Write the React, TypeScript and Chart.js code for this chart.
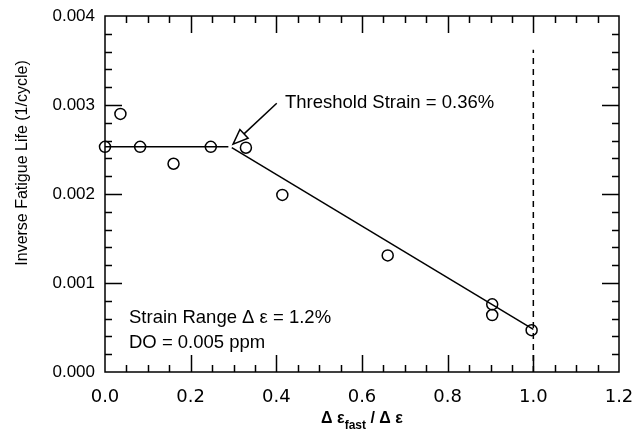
import React, { useEffect, useRef } from "react";
import { Chart, registerables } from "chart.js";

Chart.register(...registerables);

// Measured points
const pointsX = [0, 0.036, 0.082, 0.16, 0.247, 0.329, 0.414, 0.66, 0.904, 0.904, 0.996];
const pointsY = [0.00253, 0.0029, 0.00253, 0.00234, 0.00253, 0.00252, 0.00199, 0.00131, 0.00076, 0.00064, 0.00047];

// Fitted lines
const plateauX = [0, 0.288];
const plateauY = [0.00253, 0.00253];
const slopeX = [0.296, 1.0];
const slopeY = [0.00252, 0.00048];

// Vertical dashed limit line
const limitX = [1.0, 1.0];
const limitY = [0, 0.00362];

// Axes
const xMin = 0, xMax = 1.2, xStep = 0.2, xMinorStep = 0.05;
const yMin = 0, yMax = 0.004, yStep = 0.001, yMinorStep = 0.0002;

// Annotations (data coords)
const arrowTail = [0.401, 0.00302];
const arrowTip = [0.299, 0.00256];
const thresholdLabel = "Threshold Strain = 0.36%";
const thresholdPos = [0.42, 0.00302];
const noteLines = ["Strain Range \u0394 \u03b5 = 1.2%", "DO = 0.005 ppm"];
const notePos = [0.056, 0.000607];
const yTitle = "Inverse Fatigue Life (1/cycle)";

const FONT = '"Liberation Sans", Arial, Helvetica, sans-serif';
const WIDE = '"DejaVu Sans", sans-serif';

const toXY = (xs: number[], ys: number[]) => xs.map((x, i) => ({ x, y: ys[i] }));

const decorPlugin = {
  id: "decor",
  afterDraw(chart: any) {
    const { ctx, chartArea: a, scales } = chart;
    const xs = scales.x, ys = scales.y;
    ctx.save();
    ctx.strokeStyle = "#000";
    ctx.fillStyle = "#000";
    ctx.lineWidth = 1.5;
    ctx.strokeRect(a.left, a.top, a.right - a.left, a.bottom - a.top);

    // ticks
    const nx = Math.round((xMax - xMin) / xMinorStep);
    const perX = Math.round(xStep / xMinorStep);
    ctx.beginPath();
    for (let i = 1; i < nx; i++) {
      const v = xMin + i * xMinorStep;
      const px = Math.round(xs.getPixelForValue(v)) + 0.5;
      const len = i % perX === 0 ? 17 : 7;
      ctx.moveTo(px, a.bottom);
      ctx.lineTo(px, a.bottom - len);
      ctx.moveTo(px, a.top);
      ctx.lineTo(px, a.top + len);
    }
    const ny = Math.round((yMax - yMin) / yMinorStep);
    const perY = Math.round(yStep / yMinorStep);
    for (let i = 1; i < ny; i++) {
      const v = yMin + i * yMinorStep;
      const py = Math.round(ys.getPixelForValue(v)) + 0.5;
      const len = i % perY === 0 ? 17 : 7;
      ctx.moveTo(a.left, py);
      ctx.lineTo(a.left + len, py);
      ctx.moveTo(a.right, py);
      ctx.lineTo(a.right - len, py);
    }
    ctx.stroke();

    // arrow
    const tx = xs.getPixelForValue(arrowTail[0]), ty = ys.getPixelForValue(arrowTail[1]);
    const hx = xs.getPixelForValue(arrowTip[0]), hy = ys.getPixelForValue(arrowTip[1]);
    const dx = hx - tx, dy = hy - ty;
    const L = Math.hypot(dx, dy);
    const ux = dx / L, uy = dy / L;
    const nxv = -uy, nyv = ux;
    const hl = 15, hw = 6;
    const bx = hx - ux * hl, by = hy - uy * hl;
    ctx.lineWidth = 1.5;
    ctx.beginPath();
    ctx.moveTo(tx, ty);
    ctx.lineTo(bx, by);
    ctx.stroke();
    ctx.beginPath();
    ctx.moveTo(hx, hy);
    ctx.lineTo(bx + nxv * hw, by + nyv * hw);
    ctx.lineTo(bx - nxv * hw, by - nyv * hw);
    ctx.closePath();
    ctx.stroke();

    // texts
    ctx.font = `18.5px ${FONT}`;
    ctx.textBaseline = "middle";
    ctx.textAlign = "left";
    ctx.fillText(thresholdLabel, xs.getPixelForValue(thresholdPos[0]), ys.getPixelForValue(thresholdPos[1]));
    const nx0 = xs.getPixelForValue(notePos[0]);
    const ny0 = ys.getPixelForValue(notePos[1]);
    noteLines.forEach((t, i) => ctx.fillText(t, nx0, ny0 + i * 25));

    // y title
    ctx.save();
    ctx.translate(23, 163);
    ctx.rotate(-Math.PI / 2);
    ctx.textAlign = "center";
    ctx.font = `16px ${FONT}`;
    ctx.fillText(yTitle, 0, 0);
    ctx.restore();

    // x title with subscript
    const cx = (a.left + a.right) / 2;
    const base = 423;
    const mainFont = `bold 16px ${FONT}`;
    const subFont = `bold 12px ${FONT}`;
    const p1 = "\u0394 \u03b5", sub = "fast", p2 = " / \u0394 \u03b5";
    ctx.textBaseline = "alphabetic";
    ctx.font = mainFont;
    const w1 = ctx.measureText(p1).width;
    const w3 = ctx.measureText(p2).width;
    ctx.font = subFont;
    const w2 = ctx.measureText(sub).width;
    let x0 = cx - (w1 + w2 + w3) / 2;
    ctx.font = mainFont;
    ctx.fillText(p1, x0, base);
    x0 += w1;
    ctx.font = subFont;
    ctx.fillText(sub, x0, base + 6);
    x0 += w2;
    ctx.font = mainFont;
    ctx.fillText(p2, x0, base);
    ctx.restore();
  },
};

export default function App() {
  const ref = useRef<HTMLCanvasElement>(null);
  useEffect(() => {
    document.body.style.margin = "0";
    const chart = new Chart(ref.current!, {
      type: "scatter",
      data: {
        datasets: [
          {
            data: toXY(plateauX, plateauY),
            showLine: true,
            borderColor: "#000",
            borderWidth: 1.5,
            pointRadius: 0,
            order: 3,
          },
          {
            data: toXY(slopeX, slopeY),
            showLine: true,
            borderColor: "#000",
            borderWidth: 1.5,
            pointRadius: 0,
            order: 3,
          },
          {
            data: toXY(limitX, limitY),
            showLine: true,
            borderColor: "#000",
            borderWidth: 1.5,
            borderDash: [6, 5],
            pointRadius: 0,
            order: 3,
          },
          {
            data: toXY(pointsX, pointsY),
            showLine: false,
            clip: false,
            pointRadius: 5.5,
            pointBorderWidth: 1.5,
            pointBorderColor: "#000",
            pointBackgroundColor: "rgba(0,0,0,0)",
            order: 1,
          },
        ],
      },
      options: {
        animation: false,
        responsive: false,
        devicePixelRatio: 1,
        layout: { padding: { left: 0, top: 16, right: 16, bottom: 0 } },
        plugins: { legend: { display: false }, tooltip: { enabled: false } },
        scales: {
          x: {
            type: "linear",
            min: xMin,
            max: xMax,
            grid: { display: false, drawTicks: false },
            border: { display: false },
            ticks: {
              stepSize: xStep,
              padding: 15,
              maxRotation: 0,
              color: "#000",
              font: { family: WIDE, size: 18 },
              callback: (v: any) => Number(v).toFixed(1),
            },
            afterFit: (s: any) => {
              s.height = 60;
              s.paddingLeft = 0;
              s.paddingRight = 0;
            },
          },
          y: {
            type: "linear",
            min: yMin,
            max: yMax,
            grid: { display: false, drawTicks: false },
            border: { display: false },
            ticks: {
              stepSize: yStep,
              padding: 10,
              color: "#000",
              font: { family: FONT, size: 17 },
              callback: (v: any) => Number(v).toFixed(3),
            },
            afterFit: (s: any) => {
              s.width = 105;
              s.paddingTop = 0;
              s.paddingBottom = 0;
            },
          },
        },
      },
      plugins: [decorPlugin],
    });
    return () => chart.destroy();
  }, []);
  return (
    <div style={{ width: 635, height: 432 }}>
      <canvas ref={ref} width={635} height={432} />
    </div>
  );
}
